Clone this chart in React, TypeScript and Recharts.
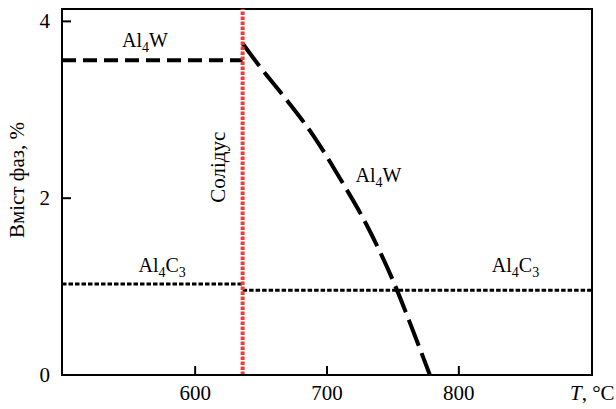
import React from "react";
import {
  Line,
  LineChart,
  ReferenceArea,
  ReferenceDot,
  ReferenceLine,
  XAxis,
  YAxis,
} from "recharts";

// temperatures, °C
const al4wLowT = [499, 636];
const al4wLowV = [3.56, 3.56];
const al4wCurveT = [636, 650, 670, 690, 710, 730, 750, 765, 778];
const al4wCurveV = [3.75, 3.47, 3.1, 2.7, 2.22, 1.7, 1.07, 0.51, 0];
const al4c3LowT = [499, 636];
const al4c3LowV = [1.03, 1.03];
const al4c3HighT = [636, 901];
const al4c3HighV = [0.96, 0.96];
const solidusT = 636;

const xTicks = [600, 700, 800];
const yTicks = [0, 2, 4];
const xDomain = [499, 901];
const yDomain = [0, 4.14];

// phase labels: [formula suffix, T, value]
const phaseLabels: [string, number, number][] = [
  ["W", 562, 3.71],
  ["W", 739, 2.18],
  ["C3", 575, 1.165],
  ["C3", 843, 1.165],
];

const FONT = "'Liberation Serif', 'Times New Roman', serif";

const toRows = (t: number[], v: number[]) => t.map((x, i) => ({ t: x, v: v[i] }));

function XTick({ x, y, payload }: any) {
  return (
    <g>
      <line x1={x} x2={x} y1={y} y2={y - 9} stroke="#000" strokeWidth={2} />
      <text x={x} y={y + 25} textAnchor="middle" fontSize={21} fontFamily={FONT} fill="#000">
        {payload.value}
      </text>
    </g>
  );
}

function YTick({ x, y, payload }: any) {
  return (
    <g>
      <line x1={x} x2={x + 9} y1={y} y2={y} stroke="#000" strokeWidth={2} />
      <text x={x - 12} y={y + 7} textAnchor="end" fontSize={21} fontFamily={FONT} fill="#000">
        {payload.value}
      </text>
    </g>
  );
}

function phaseShape(suffix: string) {
  return (p: any) => {
    const sub = suffix.length > 1 ? suffix.slice(1) : null;
    return (
      <text x={p.cx} y={p.cy} textAnchor="middle" fontSize={20} fontFamily={FONT} fill="#000">
        Al
        <tspan fontSize={14} dy={5}>4</tspan>
        <tspan dy={-5}>{suffix[0]}</tspan>
        {sub && (
          <tspan fontSize={14} dy={5}>
            {sub}
          </tspan>
        )}
      </text>
    );
  };
}

export default function App() {
  return (
    <div style={{ position: "absolute", left: 0, top: 0, background: "#fff" }}>
      <LineChart
        width={616}
        height={409}
        margin={{ top: 9, right: 24, left: 0, bottom: 0 }}
      >
        <XAxis
          type="number"
          dataKey="t"
          domain={xDomain}
          ticks={xTicks}
          allowDataOverflow
          height={34}
          tickSize={0}
          tickMargin={0}
          tickLine={false}
          tick={<XTick />}
          axisLine={{ stroke: "#000", strokeWidth: 2 }}
          label={{
            content: (props: any) => {
              const vb = props.viewBox;
              return (
                <text x={vb.x + vb.width - 22} y={vb.y + 25} fontSize={21} fontFamily={FONT} fill="#000">
                  <tspan fontStyle="italic">T</tspan>, °C
                </text>
              );
            },
          }}
        />
        <YAxis
          type="number"
          domain={yDomain}
          ticks={yTicks}
          allowDataOverflow
          width={62}
          tickSize={0}
          tickMargin={0}
          tickLine={false}
          tick={<YTick />}
          axisLine={{ stroke: "#000", strokeWidth: 2 }}
          label={{
            content: () => (
              <text
                x={17}
                y={180}
                transform="rotate(-90 17 180)"
                textAnchor="middle"
                dominantBaseline="central"
                fontSize={21}
                fontFamily={FONT}
                fill="#000"
              >
                Вміст фаз, %
              </text>
            ),
          }}
        />
        <ReferenceArea
          x1={xDomain[0]}
          x2={xDomain[1]}
          y1={yDomain[0]}
          y2={yDomain[1]}
          fill="none"
          fillOpacity={0}
          stroke="#000"
          strokeWidth={2}
        />
        <Line
          data={toRows(al4c3LowT, al4c3LowV)}
          dataKey="v"
          stroke="#000"
          strokeWidth={3}
          strokeDasharray="4.5 2"
          dot={false}
          isAnimationActive={false}
        />
        <Line
          data={toRows(al4c3HighT, al4c3HighV)}
          dataKey="v"
          stroke="#000"
          strokeWidth={3}
          strokeDasharray="4.5 2"
          dot={false}
          isAnimationActive={false}
        />
        <Line
          data={toRows(al4wLowT, al4wLowV)}
          dataKey="v"
          stroke="#000"
          strokeWidth={4}
          strokeDasharray="14 7"
          dot={false}
          isAnimationActive={false}
        />
        <Line
          data={toRows(al4wCurveT, al4wCurveV)}
          dataKey="v"
          type="monotone"
          stroke="#000"
          strokeWidth={4}
          strokeDasharray="28 8"
          dot={false}
          isAnimationActive={false}
        />
        <ReferenceLine
          x={solidusT}
          stroke="#f23a3a"
          strokeWidth={4}
          strokeDasharray="3.5 1.5"
        />
        {phaseLabels.map(([suffix, t, v], i) => (
          <ReferenceDot key={i} x={t} y={v} r={0} shape={phaseShape(suffix)} />
        ))}
        <ReferenceDot
          x={617.5}
          y={2.35}
          r={0}
          shape={(p: any) => (
            <text
              x={p.cx}
              y={p.cy}
              transform={`rotate(-90 ${p.cx} ${p.cy})`}
              textAnchor="middle"
              dominantBaseline="central"
              fontSize={21}
              fontFamily={FONT}
              fill="#000"
            >
              Солідус
            </text>
          )}
        />
      </LineChart>
    </div>
  );
}
